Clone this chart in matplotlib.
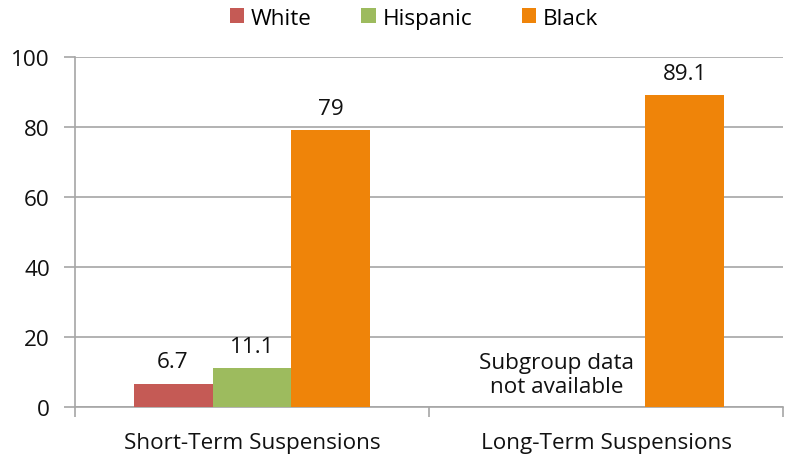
import matplotlib
matplotlib.use('Agg')
import matplotlib.pyplot as plt
import numpy as np

plt.rcParams['font.family'] = ['Open Sans', 'DejaVu Sans']

categories = ['Short-Term Suspensions', 'Long-Term Suspensions']
groups = ['White', 'Hispanic', 'Black']
white = [6.7, None]
hispanic = [11.1, None]
black = [79, 89.1]
note = 'Subgroup data\nnot available'

colors = ['#C55A55', '#9DBB5E', '#EF8409']
grid_color = '#A6A6A6'
fs = 16.2

fig = plt.figure(figsize=(7.86, 4.6), dpi=100)
ax = fig.add_axes([0.0954, 0.113, 0.9008, 0.761])

x = np.arange(len(categories))
width = 0.223
series = [white, hispanic, black]
handles = []
for i, (name, vals, col) in enumerate(zip(groups, series, colors)):
    offset = (i - 1) * width
    xs = [x[j] + offset for j, v in enumerate(vals) if v is not None]
    vs = [v for v in vals if v is not None]
    bars = ax.bar(xs, vs, width=width, color=col, label=name, zorder=3)
    handles.append(bars)
    for b, v in zip(bars, vs):
        ax.annotate('%g' % v, (b.get_x() + b.get_width() / 2, v),
                    xytext=(0, 8), textcoords='offset points',
                    ha='center', va='bottom', fontsize=fs, color='#111111')

ax.text(x[1] - 0.14, 9.4, note, ha='center', va='center',
        fontsize=fs, color='#111111', linespacing=1.2)

ax.set_xlim(-0.5, 1.5)
ax.set_ylim(0, 100)
ax.set_yticks(range(0, 101, 20))
ax.yaxis.grid(True, color=grid_color, linewidth=1.2, zorder=0)
ax.set_axisbelow(True)

ax.set_xticks([-0.5, 0.5, 1.5])
ax.set_xticklabels([])
ax.set_xticks(x, minor=True)
ax.set_xticklabels(categories, minor=True, fontsize=fs, color='#111111')
ax.tick_params(axis='x', which='minor', length=0, pad=18)
ax.tick_params(axis='x', which='major', length=7, width=1.2, color=grid_color, direction='out')
ax.tick_params(axis='y', length=8, width=1.2, color=grid_color, labelsize=fs,
               labelcolor='#111111', pad=10)

for s in ['top', 'right']:
    ax.spines[s].set_visible(False)
for s in ['left', 'bottom']:
    ax.spines[s].set_color(grid_color)
    ax.spines[s].set_linewidth(1.2)

fig.legend(handles=handles, labels=groups, loc='upper center',
           bbox_to_anchor=(414 / 786, 1.025), ncol=3, frameon=False,
           fontsize=fs, handlelength=0.65, handleheight=0.65,
           handletextpad=0.3, columnspacing=2.2)

fig.savefig('out.png', dpi=100)
